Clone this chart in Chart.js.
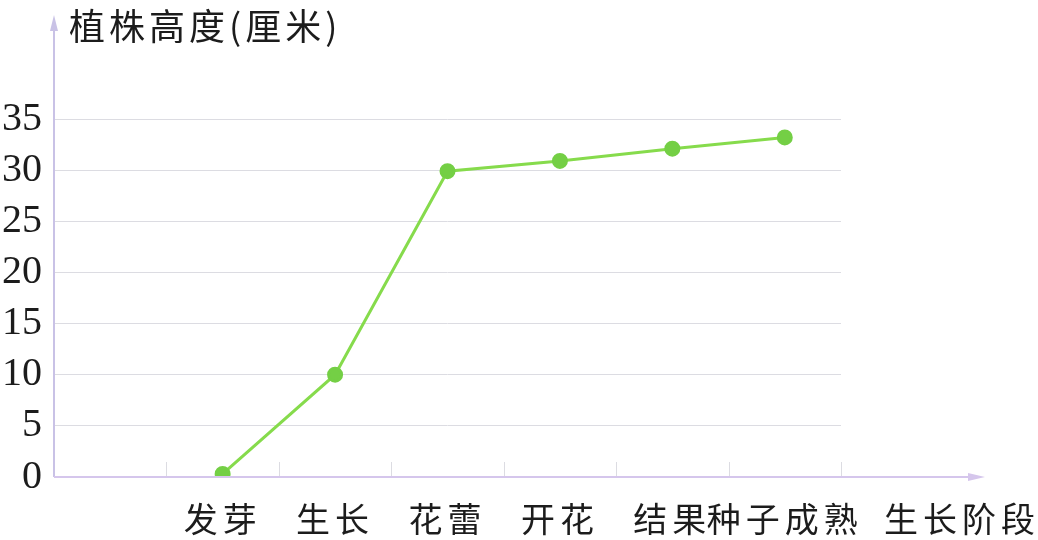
<!DOCTYPE html>
<html>
<head>
<meta charset="utf-8">
<script src="https://cdn.jsdelivr.net/npm/chart.js@4.4.1/dist/chart.umd.min.js"></script>
<style>
html,body{margin:0;padding:0;background:#fff;}
#wrap{width:1038px;height:540px;}
</style>
</head>
<body>
<div id="wrap"><canvas id="c" width="1038" height="540"></canvas></div>
<script>
const stages = ['', '发芽', '生长', '花蕾', '开花', '结果', '种子成熟'];
const heights = [null, 0.3, 10, 29.9, 30.9, 32.1, 33.2];
const yTicks = [0, 5, 10, 15, 20, 25, 30, 35];
const yTitle = '植株高度(厘米)';
const xTitle = '生长阶段';

const AXIS_Y = '#c9c2e6';
const AXIS_X = '#d5c6ec';
const GRID = '#dcdce2';
const CJK = '"Noto Sans CJK SC", "Noto Sans", sans-serif';

const decor = {
  id: 'decor',
  beforeDraw(chart) {
    const s = chart.scales.x;
    if (!s._ls) {
      const orig = s.drawLabels.bind(s);
      s.drawLabels = function (ca) {
        const c = this.ctx;
        const prev = c.letterSpacing;
        c.letterSpacing = '5px';
        orig(ca);
        c.letterSpacing = prev;
      };
      s._ls = true;
    }
  },
  afterDraw(chart) {
    const ctx = chart.ctx;
    const xs = chart.scales.x, ys = chart.scales.y;
    const x0 = xs.left, y0 = ys.getPixelForValue(0);
    ctx.save();
    // short tick marks on x axis
    ctx.strokeStyle = GRID;
    ctx.lineWidth = 1;
    const n = stages.length;
    for (let i = 1; i <= n; i++) {
      const x = Math.round(xs.left + i * (xs.width / n)) + 0.5;
      ctx.beginPath();
      ctx.moveTo(x, y0);
      ctx.lineTo(x, y0 - 15);
      ctx.stroke();
    }
    // y axis with arrow
    ctx.strokeStyle = AXIS_Y;
    ctx.fillStyle = AXIS_Y;
    ctx.lineWidth = 2;
    ctx.beginPath();
    ctx.moveTo(x0, y0);
    ctx.lineTo(x0, 28);
    ctx.stroke();
    ctx.beginPath();
    ctx.moveTo(x0, 15);
    ctx.lineTo(x0 - 4, 31);
    ctx.lineTo(x0 + 4, 31);
    ctx.closePath();
    ctx.fill();
    // x axis with arrow
    ctx.strokeStyle = AXIS_X;
    ctx.fillStyle = AXIS_X;
    ctx.beginPath();
    ctx.moveTo(x0, y0);
    ctx.lineTo(972, y0);
    ctx.stroke();
    ctx.beginPath();
    ctx.moveTo(985, y0);
    ctx.lineTo(968, y0 - 4);
    ctx.lineTo(968, y0 + 4);
    ctx.closePath();
    ctx.fill();
    // titles
    ctx.fillStyle = '#1c1c1c';
    ctx.letterSpacing = '4px';
    ctx.textBaseline = 'middle';
    ctx.textAlign = 'left';
    ctx.font = '36px ' + CJK;
    ctx.fillText(yTitle, 69, 26);
    ctx.letterSpacing = '5px';
    ctx.font = '34px ' + CJK;
    ctx.fillText(xTitle, 884, 519);
    ctx.restore();
  }
};

new Chart(document.getElementById('c'), {
  type: 'line',
  data: {
    labels: stages,
    datasets: [{
      data: heights,
      borderColor: '#86db4c',
      backgroundColor: '#74cf45',
      pointBackgroundColor: '#74cf45',
      pointBorderColor: '#74cf45',
      pointRadius: 6.5,
      borderWidth: 3,
      tension: 0,
      spanGaps: true
    }]
  },
  options: {
    responsive: false,
    animation: false,
    events: [],
    layout: { padding: { left: 0, right: 1038 - 841, top: 119, bottom: 0 } },
    plugins: { legend: { display: false }, tooltip: { enabled: false }, title: { display: false } },
    scales: {
      x: {
        type: 'category',
        offset: true,
        grid: { display: false, drawTicks: false },
        border: { display: false },
        ticks: {
          padding: 22,
          color: '#1c1c1c',
          font: { family: CJK, size: 34 },
          maxRotation: 0,
          autoSkip: false
        },
        afterFit(s) { s.height = 63; }
      },
      y: {
        min: 0,
        max: 35,
        afterBuildTicks(s) { s.ticks = yTicks.map(v => ({ value: v })); },
        grid: { color: GRID, lineWidth: 1, drawTicks: false },
        border: { display: false },
        ticks: {
          padding: 12,
          color: '#1c1c1c',
          font: { family: '"Liberation Serif", serif', size: 40 }
        },
        afterFit(s) { s.width = 54; }
      }
    }
  },
  plugins: [decor]
});
</script>
</body>
</html>
